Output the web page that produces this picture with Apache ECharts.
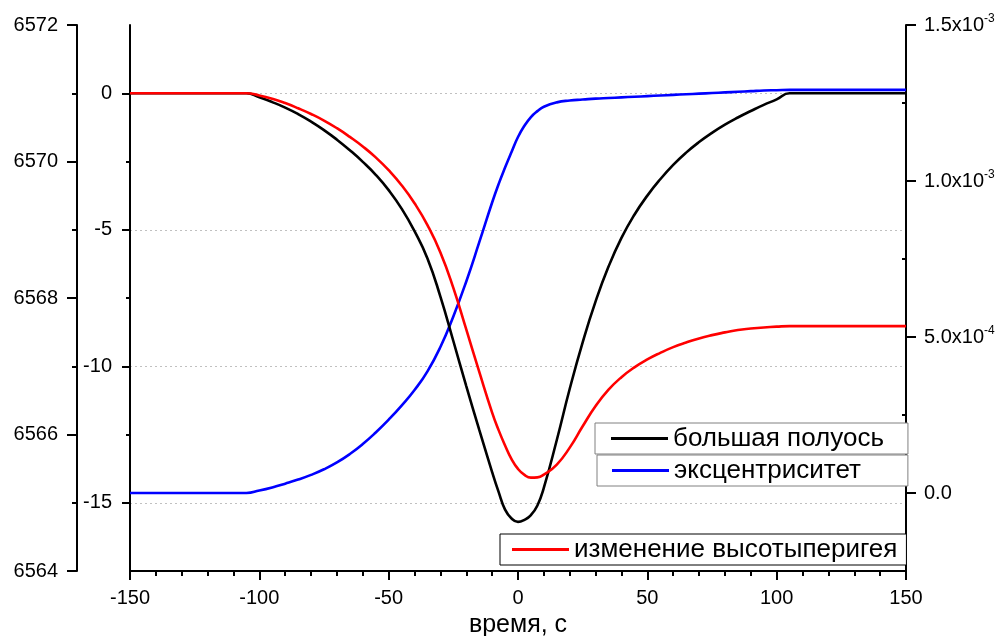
<!DOCTYPE html>
<html>
<head>
<meta charset="utf-8">
<script src="https://cdn.jsdelivr.net/npm/echarts@6/dist/echarts.min.js"></script>
<style>
  html, body { margin: 0; padding: 0; background: #fff; }
  #chart { width: 997px; height: 636px; }
</style>
</head>
<body>
<div id="chart"></div>
<script>
// время, с
const timeS = [-150, -110, -105, -100, -95, -90, -85, -80, -75, -70, -65, -60, -55, -50, -45, -40, -35, -30, -25, -20, -15, -10, -7.5, -5, -2.5,
  0, 2.5, 5, 7.5, 10, 15, 20, 25, 30, 35, 40, 45, 50, 55, 60, 65, 70, 75, 80, 85, 90, 95, 100, 105, 110, 150]

// большая полуось, км (left outer axis)
const semiMajor = [6571.00, 6571.00, 6571.00, 6570.94, 6570.87, 6570.79, 6570.695, 6570.585, 6570.46, 6570.32, 6570.165, 6569.995, 6569.805, 6569.58, 6569.31, 6568.98, 6568.58, 6568.02, 6567.37, 6566.71, 6566.07, 6565.45, 6565.16, 6564.90, 6564.77,
  6564.72, 6564.75, 6564.82, 6564.96, 6565.22, 6565.92, 6566.67, 6567.35, 6567.95, 6568.46, 6568.88, 6569.22, 6569.50, 6569.74, 6569.95, 6570.13, 6570.285, 6570.42, 6570.54, 6570.645, 6570.74, 6570.83, 6570.91, 6571.00, 6571.00, 6571.00]

// изменение высоты перигея, км (left inner axis)
const perigeeChange = [0, 0, 0, -0.08, -0.20, -0.36, -0.55, -0.76, -1.00, -1.28, -1.60, -1.95, -2.35, -2.82, -3.37, -4.03, -4.83, -5.83, -7.13, -8.65, -10.20, -11.70, -12.34, -12.90, -13.40,
  -13.76, -13.98, -14.08, -14.07, -13.97, -13.60, -12.98, -12.20, -11.46, -10.86, -10.40, -10.04, -9.75, -9.51, -9.30, -9.13, -8.98, -8.86, -8.76, -8.67, -8.62, -8.58, -8.55, -8.53, -8.53, -8.53]

// эксцентриситет (right axis)
const eccentricity = [0, 0, 0, 0.000008, 0.000018, 0.000030, 0.000043, 0.000058, 0.000076, 0.000098, 0.000125, 0.000157, 0.000194, 0.000235, 0.000280, 0.000330, 0.000390, 0.000468, 0.000566, 0.000678, 0.000803, 0.000931, 0.000990, 0.001043, 0.001093,
  0.001141, 0.001177, 0.001205, 0.001224, 0.001238, 0.001252, 0.001258, 0.001261, 0.001264, 0.001266, 0.001268, 0.001270, 0.001272, 0.001274, 0.001276, 0.001278, 0.001280, 0.001282, 0.001284, 0.001286, 0.001288, 0.001290, 0.001291, 0.001292, 0.001292, 0.001292]

const innerTicks = [-15, -10, -5, 0]
const innerMinor = [-12.5, -7.5, -2.5]
const rightTicks = [0, 0.0005, 0.001, 0.0015]
const rightMinor = [0.00025, 0.00075, 0.00125]

const names = ['большая полуось', 'эксцентриситет', 'изменение высотыперигея']

const pairs = (ys) => timeS.map((t, i) => [t, ys[i]])

function sciLabel(v) {
  if (Math.abs(v) < 1e-12) return '0.0'
  const e = Math.floor(Math.log10(Math.abs(v)) + 1e-6)
  const m = v / Math.pow(10, e)
  return '{b|' + m.toFixed(1) + 'x10}{s|' + e + '}'
}

const font = 'Liberation Sans, Arial, sans-serif'
const axisLine = { show: true, onZero: false, lineStyle: { color: '#000', width: 2 } }
const labelStyle = { color: '#000', fontSize: 20, fontFamily: font }

const chart = echarts.init(document.getElementById('chart'), null, { renderer: 'canvas' })

const legendBase = {
  orient: 'horizontal',
  icon: 'rect',
  itemWidth: 57,
  itemHeight: 3,
  borderWidth: 1,
  backgroundColor: '#fff',
  textStyle: { color: '#000', fontSize: 26, lineHeight: 29, fontFamily: font },
  selectedMode: false
}

chart.setOption({
  animation: false,
  backgroundColor: '#fff',
  grid: { left: 130, right: 91, top: 25, bottom: 65, outerBoundsMode: 'none' },
  legend: [
    Object.assign({}, legendBase, { data: [names[0]], left: 595, top: 423, padding: [1, 24, 1, 16], borderColor: '#808080' }),
    Object.assign({}, legendBase, { data: [names[1]], left: 597, top: 455, padding: [1, 47, 1, 15], borderColor: '#808080' }),
    Object.assign({}, legendBase, { data: [names[2]], left: 500, top: 534, padding: [1, 9, 1, 12], borderColor: '#000' })
  ],
  xAxis: {
    type: 'value',
    min: -150,
    max: 150,
    interval: 50,
    name: 'время, с',
    nameLocation: 'middle',
    nameGap: 41,
    nameTextStyle: { color: '#000', fontSize: 25, fontFamily: font },
    axisLine: axisLine,
    axisTick: { show: true, length: 9, lineStyle: { color: '#000', width: 2 } },
    minorTick: { show: true, splitNumber: 5, length: 5, lineStyle: { color: '#000', width: 2 } },
    axisLabel: Object.assign({ margin: 17 }, labelStyle),
    splitLine: { show: false }
  },
  yAxis: [
    {
      // большая полуось
      type: 'value',
      position: 'left',
      offset: 53,
      min: 6564,
      max: 6572,
      interval: 2,
      axisLine: axisLine,
      axisTick: { show: true, length: 10, lineStyle: { color: '#000', width: 2 } },
      minorTick: { show: true, splitNumber: 2, length: 5, lineStyle: { color: '#000', width: 2 } },
      axisLabel: Object.assign({ margin: 19, formatter: (v) => String(v) }, labelStyle),
      splitLine: { show: false }
    },
    {
      // изменение высоты перигея
      type: 'value',
      position: 'left',
      offset: 0,
      min: -17.5,
      max: 2.5,
      interval: 2.5,
      axisLine: axisLine,
      axisTick: { show: true, length: 8, customValues: innerTicks, lineStyle: { color: '#000', width: 2 } },
      axisLabel: Object.assign({ margin: 18, customValues: innerTicks }, labelStyle),
      splitLine: { show: true, lineStyle: { color: '#c0c0c0', type: [2, 3], width: 1 } }
    },
    {
      // эксцентриситет
      type: 'value',
      position: 'right',
      offset: 0,
      min: -0.00025,
      max: 0.0015,
      interval: 0.00025,
      axisLine: axisLine,
      axisTick: { show: true, length: 10, customValues: rightTicks, lineStyle: { color: '#000', width: 2 } },
      axisLabel: Object.assign({
        margin: 18,
        customValues: rightTicks,
        formatter: sciLabel,
        rich: {
          b: { fontSize: 20, fontFamily: font, color: '#000', lineHeight: 24 },
          s: { fontSize: 12, fontFamily: font, color: '#000', verticalAlign: 'top', lineHeight: 24 }
        }
      }, labelStyle),
      splitLine: { show: false }
    },
    {
      // inner minor ticks
      type: 'value',
      position: 'left',
      offset: 0,
      min: -17.5,
      max: 2.5,
      interval: 2.5,
      axisLine: { show: false, onZero: false },
      axisTick: { show: true, length: 4, customValues: innerMinor, lineStyle: { color: '#000', width: 2 } },
      axisLabel: { show: false },
      splitLine: { show: false }
    },
    {
      // right minor ticks (inside)
      type: 'value',
      position: 'right',
      offset: 0,
      min: -0.00025,
      max: 0.0015,
      interval: 0.00025,
      axisLine: { show: false, onZero: false },
      axisTick: { show: true, inside: true, length: 4, customValues: rightMinor, lineStyle: { color: '#000', width: 2 } },
      axisLabel: { show: false },
      splitLine: { show: false }
    }
  ],
  series: [
    {
      name: names[0],
      type: 'line',
      yAxisIndex: 0,
      data: pairs(semiMajor),
      color: '#000000',
      showSymbol: false,
      smooth: 0.5,
      lineStyle: { width: 2.6 },
      z: 4
    },
    {
      name: names[1],
      type: 'line',
      yAxisIndex: 2,
      data: pairs(eccentricity),
      color: '#0000ff',
      showSymbol: false,
      smooth: 0.5,
      lineStyle: { width: 2.6 },
      z: 3
    },
    {
      name: names[2],
      type: 'line',
      yAxisIndex: 1,
      data: pairs(perigeeChange),
      color: '#ff0000',
      showSymbol: false,
      smooth: 0.5,
      lineStyle: { width: 2.6 },
      z: 5
    }
  ]
})
</script>
</body>
</html>
